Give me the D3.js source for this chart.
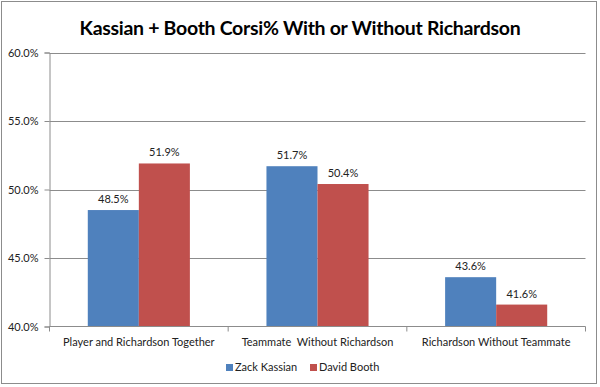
<!DOCTYPE html>
<html>
<head>
<meta charset="utf-8">
<script src="https://cdn.jsdelivr.net/npm/d3@7"></script>
<style>
  body { margin: 0; background: #fff; }
  text { font-family: Lato, "Open Sans", sans-serif; }
</style>
</head>
<body>
<div id="chart"></div>
<script>
var categories = ["Player and Richardson Together", "Teammate  Without Richardson", "Richardson Without Teammate"];
var seriesNames = ["Zack Kassian", "David Booth"];
var kassian = [48.5, 51.7, 43.6];
var booth = [51.9, 50.4, 41.6];
var yTicks = [40, 45, 50, 55, 60];
var colors = ["#4f81bd", "#c0504d"];

var width = 600, height = 387;
var plotLeft = 49.5, plotRight = 585.5, plotTop = 52.5, plotBottom = 326.5;

var svg = d3.select("#chart").append("svg")
  .attr("width", width)
  .attr("height", height);

// chart border
svg.append("rect")
  .attr("x", 1.5).attr("y", 1.5)
  .attr("width", 595).attr("height", 382)
  .attr("fill", "#fff")
  .attr("stroke", "#8c8c8c");

svg.append("text")
  .attr("x", 300).attr("y", 35)
  .attr("text-anchor", "middle")
  .style("font-size", "19.5px")
  .style("font-weight", "bold")
  .style("letter-spacing", "-0.3px")
  .text("Kassian + Booth Corsi% With or Without Richardson");

var x0 = d3.scaleBand().domain(categories).range([plotLeft, plotRight]);
var x1 = d3.scaleBand().domain(seriesNames).range([0, x0.bandwidth()]).paddingInner(0).paddingOuter(0.75);
var y = d3.scaleLinear().domain([40, 60]).range([plotBottom, plotTop]);

// gridlines
svg.append("g").selectAll("line")
  .data(yTicks.slice(1))
  .enter().append("line")
  .attr("x1", plotLeft).attr("x2", plotRight)
  .attr("y1", function(d) { return Math.round(y(d)) + 0.5; })
  .attr("y2", function(d) { return Math.round(y(d)) + 0.5; })
  .attr("stroke", "#8c8c8c");

// y axis
var yAxis = svg.append("g")
  .attr("transform", "translate(" + plotLeft + ",0)")
  .call(d3.axisLeft(y).tickValues(yTicks).tickSize(5).tickPadding(6)
    .tickFormat(function(d) { return d.toFixed(1) + "%"; }));
yAxis.select(".domain").attr("stroke", "#8c8c8c");
yAxis.selectAll(".tick line").attr("stroke", "#8c8c8c");
yAxis.selectAll(".tick text").style("font-size", "11px").attr("fill", "#222").style("font-family", "Lato, sans-serif");

var data = categories.map(function(c, i) {
  return { cat: c, vals: [kassian[i], booth[i]] };
});

var groups = svg.append("g").selectAll("g")
  .data(data)
  .enter().append("g")
  .attr("transform", function(d) { return "translate(" + x0(d.cat) + ",0)"; });

groups.selectAll("rect")
  .data(function(d) { return d.vals.map(function(v, j) { return { name: seriesNames[j], v: v, j: j }; }); })
  .enter().append("rect")
  .attr("x", function(d) { return x1(d.name); })
  .attr("width", x1.bandwidth())
  .attr("y", function(d) { return y(d.v); })
  .attr("height", function(d) { return plotBottom - y(d.v); })
  .attr("fill", function(d) { return colors[d.j]; });

groups.selectAll("text.val")
  .data(function(d) { return d.vals.map(function(v, j) { return { name: seriesNames[j], v: v }; }); })
  .enter().append("text")
  .attr("class", "val")
  .attr("x", function(d) { return x1(d.name) + x1.bandwidth() / 2; })
  .attr("y", function(d) { return y(d.v) - 7; })
  .attr("text-anchor", "middle")
  .style("font-size", "11px")
  .attr("fill", "#222")
  .text(function(d) { return d.v.toFixed(1) + "%"; });

// x axis
svg.append("line")
  .attr("x1", plotLeft).attr("x2", plotRight)
  .attr("y1", plotBottom).attr("y2", plotBottom)
  .attr("stroke", "#8c8c8c");
svg.append("g").selectAll("line")
  .data(categories.concat([null]))
  .enter().append("line")
  .attr("x1", function(d) { return d === null ? plotRight : x0(d); })
  .attr("x2", function(d) { return d === null ? plotRight : x0(d); })
  .attr("y1", plotBottom).attr("y2", plotBottom + 5)
  .attr("stroke", "#8c8c8c");

svg.append("g").selectAll("text")
  .data(categories)
  .enter().append("text")
  .attr("x", function(d) { return x0(d) + x0.bandwidth() / 2; })
  .attr("y", 346)
  .attr("text-anchor", "middle")
  .style("font-size", "11px")
  .style("white-space", "pre")
  .attr("fill", "#222")
  .text(function(d) { return d; });

// legend
var legendX = [226, 310];
var legend = svg.append("g").selectAll("g")
  .data(seriesNames)
  .enter().append("g")
  .attr("transform", function(d, i) { return "translate(" + legendX[i] + ",364)"; });
legend.append("rect")
  .attr("width", 7).attr("height", 7)
  .attr("fill", function(d, i) { return colors[i]; });
legend.append("text")
  .attr("x", 9).attr("y", 7)
  .style("font-size", "11px")
  .attr("fill", "#222")
  .text(function(d) { return d; });
</script>
</body>
</html>
